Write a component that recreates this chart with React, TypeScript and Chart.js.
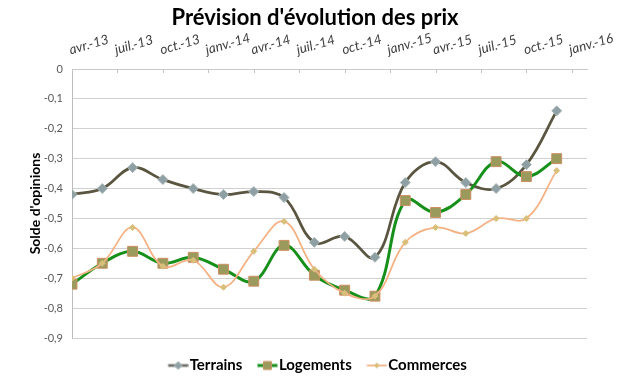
import { useEffect, useRef } from 'react';
import { Chart, registerables } from 'chart.js';

Chart.register(...registerables);

// ---- data ----
const tickMonths = [0, 3, 6, 9, 12, 15, 18, 21, 24, 27, 30, 33];
const tickLabels = ['avr.-13', 'juil.-13', 'oct.-13', 'janv.-14', 'avr.-14', 'juil.-14', 'oct.-14', 'janv.-15', 'avr.-15', 'juil.-15', 'oct.-15', 'janv.-16'];
const pointMonths = [0, 2, 4, 6, 8, 10, 12, 14, 16, 18, 20, 22, 24, 26, 28, 30, 32];
const terrains = [-0.42, -0.40, -0.33, -0.37, -0.40, -0.42, -0.41, -0.43, -0.58, -0.56, -0.63, -0.38, -0.31, -0.38, -0.40, -0.32, -0.14];
const logements = [-0.72, -0.65, -0.61, -0.65, -0.63, -0.67, -0.71, -0.59, -0.69, -0.74, -0.76, -0.44, -0.48, -0.42, -0.31, -0.36, -0.30];
const commerces = [-0.70, -0.65, -0.53, -0.66, -0.64, -0.73, -0.61, -0.51, -0.67, -0.75, -0.76, -0.58, -0.53, -0.55, -0.50, -0.50, -0.34];
const seriesNames = ['Terrains', 'Logements', 'Commerces'];
const seriesValues = [terrains, logements, commerces];

const chartTitle = "Prévision d'évolution des prix";
const yTitle = "Solde d'opinions";

// ---- styles ----
const styles = [
  { line: '#5a5540', legendLine: '#6e6e68', width: 2.75, shape: 'rectRot', r: 5, fill: '#8ea0a4', border: '#a9b6b8', legendR: 4, order: 2 },
  { line: '#16901a', legendLine: '#16901a', width: 3, shape: 'rect', r: 7, fill: '#9a9a5c', border: '#cc8f62', legendR: 4, order: 1 },
  { line: '#f4b183', legendLine: '#f4b183', width: 1.75, shape: 'rectRot', r: 3, fill: '#d8bf7a', border: '#d8bf7a', legendR: 2.5, order: 0 },
];

function makeSymbol(i: number): HTMLCanvasElement {
  const st = styles[i];
  const c = document.createElement('canvas');
  c.width = 32;
  c.height = 12;
  const g = c.getContext('2d')!;
  const cy = 6, x0 = 11.5, x1 = 31.5, cx = 21.5;
  g.strokeStyle = st.legendLine;
  g.lineWidth = Math.min(st.width, 3);
  g.beginPath();
  g.moveTo(x0, cy);
  g.lineTo(x1, cy);
  g.stroke();
  g.fillStyle = st.fill;
  g.strokeStyle = st.border;
  g.lineWidth = 1;
  const r = st.legendR;
  g.beginPath();
  if (st.shape === 'rect') {
    g.rect(cx - r, cy - r, 2 * r, 2 * r);
  } else {
    g.moveTo(cx, cy - r);
    g.lineTo(cx + r, cy);
    g.lineTo(cx, cy + r);
    g.lineTo(cx - r, cy);
    g.closePath();
  }
  g.fill();
  g.stroke();
  return c;
}

const innerTicks = {
  id: 'innerTicks',
  beforeDatasetsDraw(chart: any) {
    const xs = chart.scales.x;
    const top = chart.chartArea.top;
    const ctx = chart.ctx;
    ctx.save();
    ctx.strokeStyle = '#c4c4c4';
    ctx.lineWidth = 1;
    xs.ticks.forEach((_t: any, i: number) => {
      const px = Math.round(xs.getPixelForTick(i)) + 0.5;
      ctx.beginPath();
      ctx.moveTo(px, top);
      ctx.lineTo(px, top + 4);
      ctx.stroke();
    });
    ctx.restore();
  },
};

function fmt(v: number): string {
  if (Math.abs(v) < 1e-9) return '0';
  return v.toFixed(1).replace('.', ',');
}

export default function App() {
  const ref = useRef<HTMLCanvasElement | null>(null);

  useEffect(() => {
    if (!ref.current) return;
    Chart.defaults.font.family = 'Lato';
    const symbols = [0, 1, 2].map(makeSymbol);

    const datasets = seriesNames.map((name, i) => ({
      label: name,
      data: pointMonths.map((m, j) => ({ x: m, y: seriesValues[i][j] })),
      borderColor: styles[i].line,
      borderWidth: styles[i].width,
      backgroundColor: styles[i].fill,
      pointStyle: styles[i].shape,
      pointRadius: styles[i].r,
      pointBackgroundColor: styles[i].fill,
      pointBorderColor: styles[i].border,
      pointBorderWidth: 1,
      tension: 0.38,
      fill: false,
      order: styles[i].order,
    }));

    const chart = new Chart(ref.current, {
      type: 'line',
      data: { datasets },
      options: {
        responsive: false,
        animation: false,
        events: [],
        layout: { padding: 0 },
        plugins: {
          title: {
            display: true,
            text: chartTitle,
            color: '#000',
            font: { size: 22, weight: 'bold' },
            padding: { top: 5, bottom: 0 },
          },
          legend: {
            position: 'bottom',
            title: { display: true, text: '', font: { size: 10, lineHeight: 1 }, padding: 0 },
            labels: {
              usePointStyle: true,
              pointStyleWidth: 19,
              padding: 10,
              color: '#000',
              font: { size: 15, weight: 'bold' },
              generateLabels: () =>
                seriesNames.map((name, i) => ({
                  text: name,
                  datasetIndex: i,
                  pointStyle: symbols[i],
                  fontColor: '#000',
                  fillStyle: 'rgba(0,0,0,0)',
                  strokeStyle: 'rgba(0,0,0,0)',
                  lineWidth: 0,
                  hidden: false,
                })),
            },
          },
          tooltip: { enabled: false },
        },
        scales: {
          x: {
            type: 'linear',
            position: 'top',
            min: 0,
            max: 34,
            afterBuildTicks: (s: any) => {
              s.ticks = tickMonths.map((v) => ({ value: v }));
            },
            afterFit: (s: any) => {
              s.height = 37.6;
              s.paddingLeft = 0;
              s.paddingRight = 0;
            },
            grid: { display: false, drawTicks: false },
            border: { display: true, color: '#c8c8c8' },
            ticks: {
              autoSkip: false,
              minRotation: 16,
              maxRotation: 16,
              padding: 11,
              labelOffset: 2,
              color: '#404040',
              font: { size: 13.5, style: 'italic' },
              callback: (_v: any, i: number) => tickLabels[i],
            },
          },
          y: {
            type: 'linear',
            position: 'left',
            min: -0.9,
            max: 0,
            afterFit: (s: any) => {
              s.width = 72;
            },
            grid: { color: '#d0d0d0', drawTicks: false, lineWidth: 1 },
            border: { display: true, color: '#bdbdbd' },
            ticks: {
              stepSize: 0.1,
              padding: 9,
              color: '#595959',
              font: { size: 11 },
              callback: (v: any) => fmt(Number(v)),
            },
            title: {
              display: true,
              text: yTitle,
              color: '#000',
              font: { size: 14, weight: 'bold' },
              padding: { top: 27, bottom: 0 },
            },
          },
          y2: {
            type: 'linear',
            position: 'right',
            display: true,
            grid: { display: false, drawTicks: false },
            border: { display: false },
            ticks: { display: false },
            afterFit: (s: any) => {
              s.width = 43;
            },
          },
        },
      } as any,
      plugins: [innerTicks],
    });
    return () => chart.destroy();
  }, []);

  return (
    <div style={{ position: 'absolute', left: 0, top: 0, width: 630, height: 383, background: '#fff' }}>
      <canvas ref={ref} width={630} height={383} />
    </div>
  );
}
